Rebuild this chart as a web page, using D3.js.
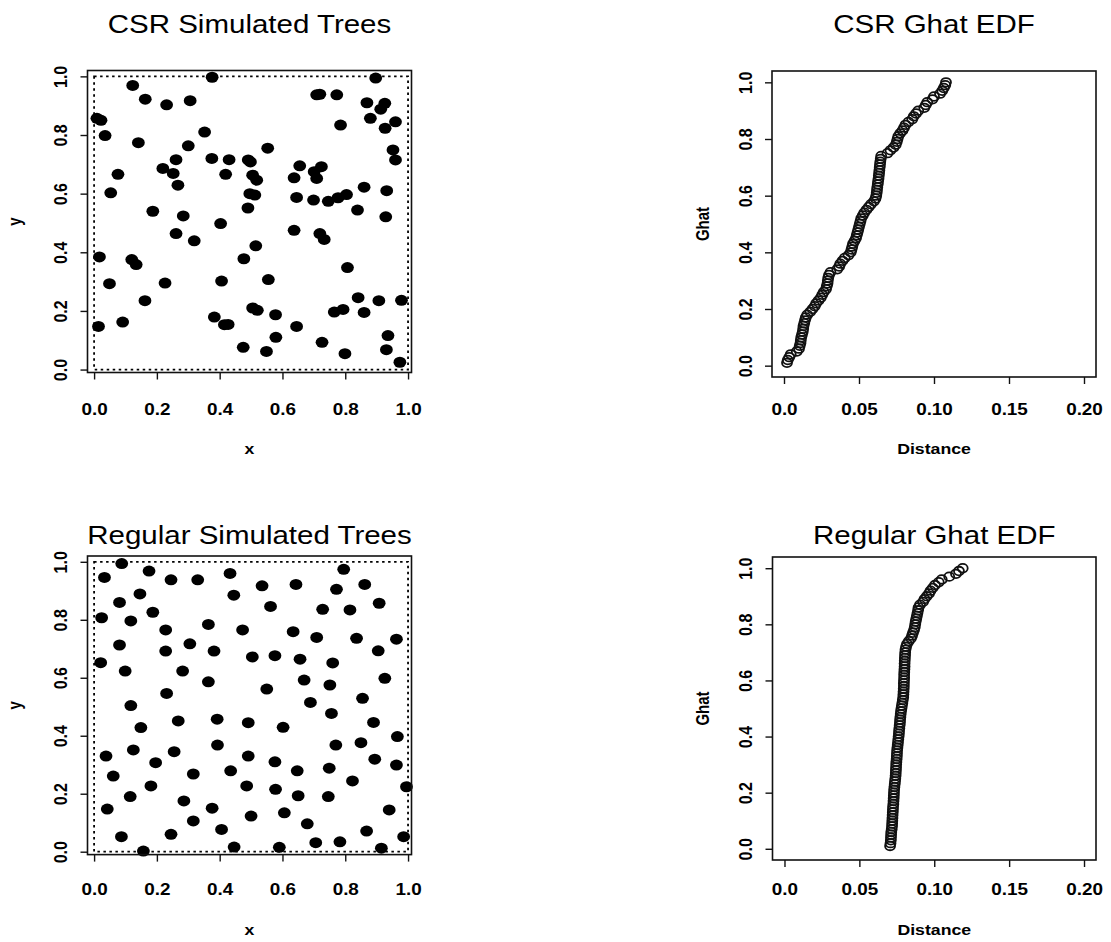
<!DOCTYPE html>
<html>
<head>
<meta charset="utf-8">
<script src="https://cdn.jsdelivr.net/npm/d3@7"></script>
<style>
body{margin:0;background:#fff;}
svg{display:block;}
</style>
</head>
<body>
<div id="chart"></div>
<script>
// CSR simulated trees
var csrX = [0.376,0.123,0.163,0.231,0.306,0.009,0.022,0.035,0.352,0.141,0.300,0.261,0.375,0.430,0.491,0.498,0.219,0.252,0.076,0.419,0.505,0.518,0.267,0.053,0.496,0.512,0.490,0.187,0.284,0.403,
	0.897,0.709,0.719,0.773,0.869,0.926,0.913,0.880,0.960,0.927,0.785,0.553,0.952,0.960,0.655,0.724,0.701,0.709,0.637,0.645,0.699,0.746,0.777,0.804,0.860,0.932,0.839,0.929,
	0.261,0.319,0.515,0.017,0.120,0.134,0.477,0.049,0.226,0.406,0.162,0.014,0.091,0.383,0.415,0.427,0.475,
	0.637,0.719,0.733,0.807,0.555,0.505,0.520,0.578,0.841,0.907,0.979,0.765,0.793,0.860,0.645,0.579,0.936,0.549,0.726,0.931,0.799,0.974];
var csrY = [0.997,0.969,0.922,0.903,0.917,0.857,0.850,0.798,0.810,0.774,0.763,0.716,0.720,0.716,0.715,0.708,0.686,0.669,0.666,0.666,0.663,0.646,0.629,0.603,0.600,0.595,0.551,0.540,0.524,0.498,
	0.994,0.937,0.939,0.937,0.910,0.908,0.888,0.857,0.845,0.823,0.834,0.755,0.749,0.715,0.695,0.692,0.675,0.652,0.654,0.587,0.578,0.574,0.586,0.597,0.622,0.610,0.544,0.521,
	0.464,0.439,0.422,0.384,0.375,0.358,0.378,0.293,0.295,0.302,0.235,0.147,0.162,0.179,0.153,0.154,0.076,
	0.475,0.464,0.444,0.348,0.307,0.210,0.202,0.187,0.245,0.235,0.236,0.196,0.205,0.195,0.147,0.110,0.116,0.062,0.093,0.068,0.054,0.025];

// Regular simulated trees
var regX = [0.088,0.033,0.175,0.245,0.330,0.433,0.146,0.081,0.445,0.187,0.024,0.117,0.364,0.228,0.473,0.081,0.305,0.228,0.382,0.504,0.021,0.099,0.282,0.364,0.231,0.117,
	0.795,0.535,0.643,0.772,0.862,0.562,0.728,0.815,0.908,0.634,0.709,0.836,0.963,0.905,0.576,0.656,0.760,0.669,0.751,0.926,0.550,0.855,0.689,
	0.268,0.392,0.491,0.149,0.393,0.125,0.255,0.038,0.491,0.196,0.061,0.316,0.435,0.181,0.486,0.115,0.286,0.042,0.376,0.500,0.316,0.406,0.087,0.245,0.157,0.446,
	0.756,0.602,0.890,0.966,0.770,0.850,0.576,0.647,0.749,0.894,0.963,0.578,0.650,0.746,0.823,0.995,0.606,0.679,0.940,0.868,0.986,0.590,0.706,0.783,0.915];
var regY = [0.994,0.946,0.968,0.938,0.938,0.960,0.889,0.860,0.885,0.826,0.807,0.796,0.784,0.765,0.765,0.713,0.717,0.692,0.692,0.672,0.652,0.623,0.623,0.586,0.546,0.504,
	0.974,0.917,0.922,0.905,0.922,0.846,0.836,0.834,0.857,0.759,0.739,0.736,0.733,0.693,0.676,0.664,0.651,0.592,0.575,0.598,0.561,0.529,0.515,
	0.451,0.457,0.445,0.428,0.368,0.351,0.345,0.330,0.330,0.307,0.261,0.268,0.279,0.227,0.227,0.190,0.175,0.147,0.150,0.123,0.106,0.077,0.052,0.060,0.002,0.016,
	0.477,0.429,0.446,0.397,0.368,0.376,0.310,0.279,0.288,0.319,0.299,0.215,0.193,0.190,0.244,0.224,0.134,0.096,0.144,0.071,0.052,0.015,0.031,0.034,0.012];

// sorted nearest neighbour distances
var csrDist = [0.0020,0.0025,0.0035,0.0045,0.0085,0.0100,0.0105,0.0110,0.0112,0.0115,
	0.0120,0.0125,0.0128,0.0130,0.0135,0.0140,0.0145,0.0155,0.0175,0.0190,
	0.0205,0.0215,0.0230,0.0245,0.0255,0.0265,0.0280,0.0285,0.0290,0.0292,
	0.0295,0.0300,0.0310,0.0355,0.0368,0.0375,0.0390,0.0405,0.0430,0.0445,
	0.0450,0.0455,0.0460,0.0470,0.0480,0.0485,0.0490,0.0495,0.0500,0.0505,
	0.0510,0.0515,0.0525,0.0535,0.0550,0.0565,0.0580,0.0600,0.0610,0.0615,
	0.0618,0.0620,0.0622,0.0625,0.0627,0.0630,0.0632,0.0634,0.0636,0.0638,
	0.0640,0.0642,0.0645,0.0648,0.0690,0.0710,0.0730,0.0745,0.0752,0.0757,
	0.0762,0.0775,0.0790,0.0800,0.0810,0.0830,0.0855,0.0865,0.0880,0.0895,
	0.0935,0.0945,0.0955,0.0990,0.1000,0.1040,0.1055,0.1065,0.1075,0.1080];
var regDist = [0.0705,0.0708,0.0710,0.0711,0.0712,0.0713,0.0716,0.0718,0.0719,0.0720,
	0.0721,0.0722,0.0723,0.0724,0.0725,0.0727,0.0728,0.0729,0.0730,0.0731,
	0.0732,0.0734,0.0736,0.0738,0.0740,0.0742,0.0743,0.0744,0.0745,0.0746,
	0.0747,0.0749,0.0750,0.0751,0.0752,0.0754,0.0756,0.0758,0.0760,0.0762,
	0.0764,0.0765,0.0767,0.0769,0.0771,0.0772,0.0774,0.0776,0.0778,0.0781,
	0.0784,0.0787,0.0790,0.0793,0.0794,0.0795,0.0796,0.0797,0.0797,0.0798,
	0.0799,0.0799,0.0800,0.0801,0.0802,0.0802,0.0803,0.0804,0.0805,0.0806,
	0.0808,0.0812,0.0818,0.0830,0.0845,0.0852,0.0858,0.0865,0.0870,0.0873,
	0.0876,0.0880,0.0884,0.0888,0.0892,0.0895,0.0905,0.0925,0.0935,0.0950,
	0.0965,0.0975,0.0990,0.1005,0.1030,0.1050,0.1100,0.1145,0.1165,0.1190];

var xyTicks = [0, 0.2, 0.4, 0.6, 0.8, 1.0];
var xyLabels = ['0.0', '0.2', '0.4', '0.6', '0.8', '1.0'];
var distTicks = [0, 0.05, 0.10, 0.15, 0.20];
var distLabels = ['0.0', '0.05', '0.10', '0.15', '0.20'];

var TreePlots = {
	options : {
		width : 1111,
		height : 942,
		stretch : 1.18,					// the scan is wider than tall
		font : '"Liberation Sans", Arial, Helvetica, sans-serif',
		ink : '#111',
		tickSize : 7,
		tickFont : 16,
		titleFont : 25,
		labelFont : 15,
		dot : {rx : 6.4, ry : 5.5},
		ring : {rx : 5.0, ry : 4.3, width : 1.8},
		xyDomain : {x : [-0.021, 1.011], y : [-0.01, 1.02]},
		edfDomain : {x : [-0.008, 0.208], y : [-0.04, 1.04]}
	},

	stretchText : function(g, x, y, str, size, weight, rotate, opt){
		var t = 'translate(' + x + ',' + y + ') scale(' + opt.stretch + ',1)';
		if(rotate) t += ' rotate(-90)';
		g.append('text')
		 .attr('transform', t)
		 .attr('text-anchor', 'middle')
		 .attr('font-family', opt.font)
		 .attr('font-size', size + 'px')
		 .attr('font-weight', weight)
		 .attr('fill', '#000')
		 .text(str);
	},

	drawAxes : function(g, x, y, box, xt, xl, yt, yl, row, opt, self){
		var s = opt.stretch;
		var ax = g.append('g')
			.attr('transform', 'translate(0,' + box.b + ')')
			.call(d3.axisBottom(x).tickValues(xt).tickFormat(function(d, i){ return xl[i]; })
				.tickSizeInner(opt.tickSize).tickSizeOuter(0));
		ax.selectAll('.tick text')
		  .attr('y', null).attr('dy', null)
		  .attr('transform', 'translate(0,' + (row.tick - box.b) + ') scale(' + s + ',1)');

		var ay = g.append('g')
			.attr('transform', 'translate(' + box.l + ',0)')
			.call(d3.axisLeft(y).tickValues(yt).tickFormat(function(d, i){ return yl[i]; })
				.tickSizeInner(opt.tickSize).tickSizeOuter(0));
		ay.selectAll('.tick text')
		  .attr('x', null).attr('dy', null)
		  .attr('transform', 'translate(-20.5,0) scale(' + s + ',1) rotate(-90)');

		[ax, ay].forEach(function(a){
			a.select('.domain').remove();
			a.selectAll('.tick line').attr('stroke', opt.ink).attr('stroke-width', 1.4);
			a.selectAll('.tick text')
			 .attr('text-anchor', 'middle')
			 .attr('font-family', opt.font)
			 .attr('font-size', opt.tickFont + 'px')
			 .attr('font-weight', 'bold')
			 .attr('fill', '#000');
		});

		g.append('rect')
		 .attr('x', box.l).attr('y', box.t)
		 .attr('width', box.r - box.l).attr('height', box.b - box.t)
		 .attr('fill', 'none').attr('stroke', opt.ink).attr('stroke-width', 1.6);
	},

	drawScatter : function(svg, p, opt, self){
		var box = p.box;
		var x = d3.scaleLinear().domain(opt.xyDomain.x).range([box.l, box.r]);
		var y = d3.scaleLinear().domain(opt.xyDomain.y).range([box.b, box.t]);
		var g = svg.append('g');

		// study window
		g.append('rect')
		 .attr('x', x(0)).attr('y', y(1))
		 .attr('width', x(1) - x(0)).attr('height', y(0) - y(1))
		 .attr('fill', 'none').attr('stroke', '#000')
		 .attr('stroke-width', 1.8).attr('stroke-dasharray', '2.5 3.5');

		g.append('g').selectAll('ellipse')
		 .data(p.xs)
		 .enter().append('ellipse')
		 .attr('cx', function(d){ return x(d); })
		 .attr('cy', function(d, i){ return y(p.ys[i]); })
		 .attr('rx', opt.dot.rx).attr('ry', opt.dot.ry)
		 .attr('fill', '#000');

		self.drawAxes(g, x, y, box, xyTicks, xyLabels, xyTicks, xyLabels, p.row, opt, self);
		self.stretchText(g, (box.l + box.r) / 2, p.row.title, p.title, opt.titleFont, 'normal', false, opt);
		self.stretchText(g, (box.l + box.r) / 2, p.row.label, 'x', opt.labelFont, 'bold', false, opt);
		self.stretchText(g, 21, (box.t + box.b) / 2, 'y', opt.labelFont, 'bold', true, opt);
	},

	drawEdf : function(svg, p, opt, self){
		var box = p.box;
		var n = p.dist.length;
		var x = d3.scaleLinear().domain(opt.edfDomain.x).range([box.l, box.r]);
		var y = d3.scaleLinear().domain(opt.edfDomain.y).range([box.b, box.t]);
		var g = svg.append('g');

		g.append('g').selectAll('ellipse')
		 .data(p.dist)
		 .enter().append('ellipse')
		 .attr('cx', function(d){ return x(d); })
		 .attr('cy', function(d, i){ return y((i + 1) / n); })	// EDF step height
		 .attr('rx', opt.ring.rx).attr('ry', opt.ring.ry)
		 .attr('fill', 'none').attr('stroke', '#111')
		 .attr('stroke-width', opt.ring.width);

		self.drawAxes(g, x, y, box, distTicks, distLabels, xyTicks, xyLabels, p.row, opt, self);
		self.stretchText(g, (box.l + box.r) / 2, p.row.title, p.title, opt.titleFont, 'normal', false, opt);
		self.stretchText(g, (box.l + box.r) / 2, p.row.label, 'Distance', opt.labelFont, 'bold', false, opt);
		self.stretchText(g, 709, (box.t + box.b) / 2, 'Ghat', opt.labelFont, 'bold', true, opt);
	},

	draw : function(id){
		var opt = this.options;
		var svg = d3.select(id).append('svg')
			.attr('width', opt.width)
			.attr('height', opt.height);
		svg.append('rect').attr('width', opt.width).attr('height', opt.height).attr('fill', '#fff');

		var top = {title : 33, tick : 415, label : 454};
		var bottom = {title : 544, tick : 895, label : 935};

		svg.call(this.drawScatter, {title : 'CSR Simulated Trees', xs : csrX, ys : csrY, row : top,
			box : {l : 87.5, r : 411.5, t : 70.5, b : 372.5}}, opt, this);
		svg.call(this.drawEdf, {title : 'CSR Ghat EDF', dist : csrDist, row : top,
			box : {l : 772, r : 1096, t : 71, b : 377}}, opt, this);
		svg.call(this.drawScatter, {title : 'Regular Simulated Trees', xs : regX, ys : regY, row : bottom,
			box : {l : 87.5, r : 411.5, t : 556, b : 854.6}}, opt, this);
		svg.call(this.drawEdf, {title : 'Regular Ghat EDF', dist : regDist, row : bottom,
			box : {l : 772.5, r : 1096, t : 557, b : 860}}, opt, this);
	}
};

TreePlots.draw('#chart');
</script>
</body>
</html>
